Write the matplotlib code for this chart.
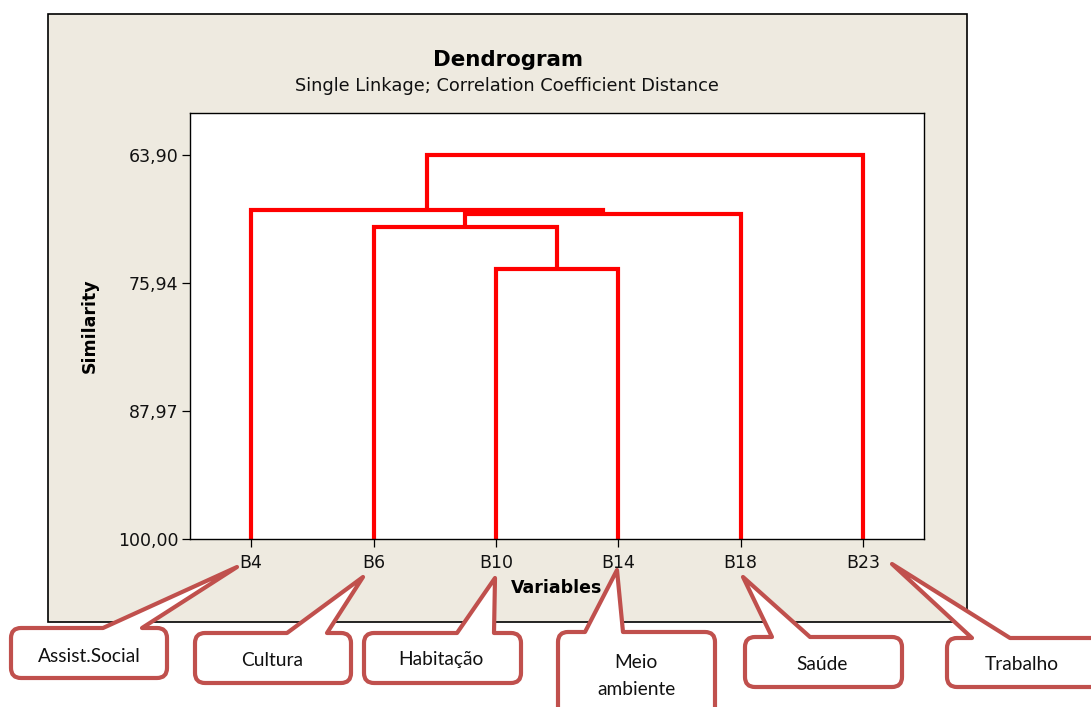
import matplotlib
matplotlib.use('Agg')
import matplotlib.pyplot as plt
from matplotlib.path import Path
from matplotlib.patches import PathPatch, Rectangle

# leaves of the dendrogram (left to right) and the merge steps
leaves = ['B4', 'B6', 'B10', 'B14', 'B18', 'B23']
merge_a = ['B10', 'B6', 'C2', 'B4', 'C4']
merge_b = ['B14', 'C1', 'B18', 'C3', 'B23']
merge_sim = [74.62, 70.70, 69.45, 69.07, 63.90]

sim_ticks = [63.90, 75.94, 87.97, 100.00]
sim_labels = ['63,90', '75,94', '87,97', '100,00']

# callout texts for each variable
callout_text = ['Assist.Social', 'Cultura', 'Habitação', 'Meio\nambiente', 'Saúde', 'Trabalho']

W, H = 1091, 707
fig = plt.figure(figsize=(W / 100, H / 100), dpi=100)
fig.patch.set_facecolor('white')

# beige minitab frame behind everything
bg = fig.add_axes([0, 0, 1, 1], zorder=-1)
bg.set_xlim(0, W)
bg.set_ylim(H, 0)
bg.axis('off')
bg.add_patch(Rectangle((48, 14), 919, 608, facecolor='#EEEAE0', edgecolor='black', lw=1.2))

def px(x0, y0, x1, y1):
    return [x0 / W, 1 - y1 / H, (x1 - x0) / W, (y1 - y0) / H]

ax = fig.add_axes(px(190, 113, 924, 539))
ax.set_facecolor('white')

pos = {name: i for i, name in enumerate(leaves)}
height = {name: 100.0 for name in leaves}
for k, (a, b, s) in enumerate(zip(merge_a, merge_b, merge_sim), start=1):
    xa, xb = pos[a], pos[b]
    ax.plot([xa, xa, xb, xb], [height[a], s, s, height[b]], color='#ff0000', lw=3.0,
            solid_joinstyle='miter', solid_capstyle='butt', clip_on=False)
    pos['C%d' % k] = (xa + xb) / 2
    height['C%d' % k] = s

ax.set_xlim(-0.5, len(leaves) - 0.5)
ax.set_ylim(100, 59.95)
ax.set_xticks(range(len(leaves)))
ax.set_xticklabels(leaves)
ax.set_yticks(sim_ticks)
ax.set_yticklabels(sim_labels)
ax.tick_params(length=5.5, width=0.9, color='black', labelsize=12.5, labelcolor='#111111')
ax.tick_params(axis='x', pad=5)
ax.tick_params(axis='y', pad=3)
for sp in ax.spines.values():
    sp.set_color('black')
    sp.set_linewidth(1.0)

ax.set_xlabel('Variables', fontsize=12.5, fontweight='bold')
ax.xaxis.set_label_coords(0.5, -0.115)
ax.xaxis.label.set_va('center')
ax.set_ylabel('Similarity', fontsize=12.5, fontweight='bold')
ax.yaxis.set_label_coords(-0.136, 0.5)
ax.yaxis.label.set_va('center')

fig.text(508 / W, 1 - 60 / H, 'Dendrogram', fontsize=15.4, fontweight='bold', ha='center', va='center')
fig.text(507 / W, 1 - 86 / H, 'Single Linkage; Correlation Coefficient Distance', fontsize=12.8,
         ha='center', va='center', color='#111111')

# callouts drawn on an overlay in pixel coordinates
top = fig.add_axes([0, 0, 1, 1], zorder=5)
top.set_xlim(0, W)
top.set_ylim(H, 0)
top.axis('off')
top.patch.set_alpha(0)

boxes = [(11, 628, 167, 678), (195, 633, 351, 683), (364, 633, 521, 683),
         (558, 632, 715, 720), (745, 637, 902, 687), (947, 638, 1110, 687)]
bases = [(103, 142), (287, 327), (457, 494), (585, 623), (772, 810), (972, 1010)]
tips = [(237, 567), (363, 577), (495, 578), (617, 570), (743, 577), (892, 564)]
text_pos = [(89, 657), (272, 660), (441, 660), (636, 676), (822, 664), (1022, 665)]


def callout(box, base, tip, r=10):
    x0, y0, x1, y1 = box
    verts = [(base[0], y0), tip, (base[1], y0), (x1 - r, y0), (x1, y0), (x1, y0 + r),
             (x1, y1 - r), (x1, y1), (x1 - r, y1), (x0 + r, y1), (x0, y1), (x0, y1 - r),
             (x0, y0 + r), (x0, y0), (x0 + r, y0), (base[0], y0)]
    codes = [Path.MOVETO, Path.LINETO, Path.LINETO, Path.LINETO, Path.CURVE3, Path.CURVE3,
             Path.LINETO, Path.CURVE3, Path.CURVE3, Path.LINETO, Path.CURVE3, Path.CURVE3,
             Path.LINETO, Path.CURVE3, Path.CURVE3, Path.CLOSEPOLY]
    return PathPatch(Path(verts, codes), facecolor='white', edgecolor='#C0504D', lw=3.0,
                     joinstyle='round')


for box, base, tip, txt, tp in zip(boxes, bases, tips, callout_text, text_pos):
    top.add_patch(callout(box, base, tip))
    top.text(tp[0], tp[1], txt, ha='center', va='center', fontsize=13.8, family='Lato',
             linespacing=1.65, color='#111111')

fig.savefig('out.png', dpi=100)
